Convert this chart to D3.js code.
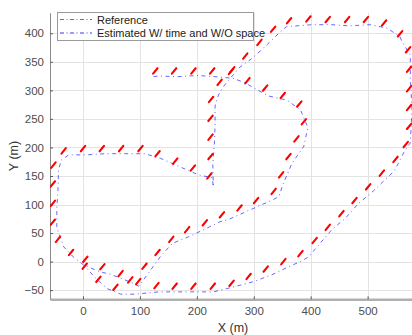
<!DOCTYPE html>
<html>
<head>
<meta charset="utf-8">
<script src="https://cdn.jsdelivr.net/npm/d3@7/dist/d3.min.js"></script>
<style>
  html, body { margin: 0; padding: 0; background: #fff; }
  svg { display: block; font-family: "Liberation Sans", Arial, Helvetica, sans-serif; }
</style>
</head>
<body>
<svg id="chart" width="412" height="335"></svg>
<script>
// Reference trajectory (red marks), metres
const refX = [127, 160, 194, 227, 260, 289, 320, 351, 380, 388, 375, 361, 348, 335, 304, 275, 244, 214, 183, 155, 131, 108,
  97, 83, 66, 34, 4, -21, -44, -53, -53, -53, -52, -34, 0, 33, 67, 101, 131, 162, 193, 222, 224, 224, 224, 225, 240, 262,
  285, 310, 334, 362, 396, 430, 464, 497, 529, 557, 571, 573, 573, 573, 573, 567, 549, 525, 501, 477, 454, 430, 407, 382,
  352, 321, 291, 261, 228, 194, 161, 129, 57, 27, 3];
const refY = [334, 334, 334, 334, 333, 317, 304, 291, 276, 245, 215, 184, 152, 123, 107, 94, 82, 68, 56, 39, 16, -8,
  -35, -32, -21, -9, 4, 16, 39, 69, 102, 136, 169, 194, 198, 198, 198, 198, 189, 176, 164, 150, 184, 218, 251, 284, 314, 336,
  360, 384, 407, 422, 425, 424, 424, 424, 418, 399, 371, 337, 303, 270, 237, 205, 179, 155, 131, 107, 84, 60, 37, 14,
  0, -13, -26, -38, -43, -43, -43, -42, -45, -31, -8];

// Estimated trajectory, W/ time and W/O space (blue)
const estX = [124, 132, 167, 201, 232, 264, 285, 297, 326, 358, 382, 395, 388, 367, 352, 344, 335, 256, 241, 212, 189, 157,
  136, 115, 98, 86, 71, 48, 30, 1, -19, -34, -46, -46, -44, -43, -38, -25, 7, 39, 69, 109, 136, 168, 203, 227, 229, 228,
  229, 231, 232, 232, 238, 247, 256, 276, 297, 317, 344, 358, 364, 402, 437, 467, 505, 534, 557, 560, 575, 575, 578, 575,
  564, 554, 546, 506, 484, 461, 437, 414, 396, 382, 361, 332, 300, 262, 229, 209, 168, 133, 92, 66, 42, 22, 6];
const estY = [324, 325, 324, 326, 324, 321, 313, 306, 290, 283, 266, 235, 202, 172, 137, 114, 109, 74, 70, 56, 45, 32,
  9, -20, -43, -37, -31, -22, -18, -6, 10, 26, 59, 94, 126, 161, 178, 187, 187, 189, 189, 189, 181, 167, 152, 147, 131, 169,
  184, 210, 240, 272, 292, 307, 318, 341, 356, 374, 400, 412, 412, 415, 415, 413, 415, 409, 394, 386, 362, 324, 266, 208,
  192, 172, 158, 120, 102, 76, 56, 29, 8, 0, -9, -23, -35, -45, -53, -53, -53, -53, -57, -57, -47, -29, -11];

const xTicks = [0, 100, 200, 300, 400, 500];
const yTicks = [-50, 0, 50, 100, 150, 200, 250, 300, 350, 400];
const seriesNames = ['Reference', 'Estimated W/ time and W/O space'];
const seriesColors = ['#ff0000', '#0000ff'];

const margin = { top: 12.7, right: 0, bottom: 35.7, left: 50 };
const W = 412, H = 335;
const svg = d3.select('#chart');

const x = d3.scaleLinear().domain([-58, 578]).range([margin.left, W - margin.right]);
const y = d3.scaleLinear().domain([-66, 436]).range([H - margin.bottom, margin.top]);

svg.append('defs').append('clipPath').attr('id', 'plot')
  .append('rect')
  .attr('x', margin.left).attr('y', margin.top)
  .attr('width', W - margin.left - margin.right)
  .attr('height', H - margin.top - margin.bottom);

// grid
const grid = svg.append('g').attr('stroke', '#e3e3e3').attr('stroke-width', 1);
grid.selectAll('.gx').data(xTicks).enter().append('line')
  .attr('x1', d => Math.round(x(d)) + 0.5).attr('x2', d => Math.round(x(d)) + 0.5)
  .attr('y1', margin.top).attr('y2', H - margin.bottom);
grid.selectAll('.gy').data(yTicks).enter().append('line')
  .attr('y1', d => Math.round(y(d)) + 0.5).attr('y2', d => Math.round(y(d)) + 0.5)
  .attr('x1', margin.left).attr('x2', W - margin.right);

// axes
const xAxis = svg.append('g')
  .attr('transform', `translate(0,${H - margin.bottom})`)
  .call(d3.axisBottom(x).tickValues(xTicks).tickSizeInner(-3).tickSizeOuter(0).tickPadding(8));
const yAxis = svg.append('g')
  .attr('transform', `translate(${margin.left},0)`)
  .call(d3.axisLeft(y).tickValues(yTicks).tickSizeInner(-3).tickSizeOuter(0).tickPadding(6));

[xAxis, yAxis].forEach(g => {
  g.selectAll('text').attr('fill', '#4d4d4d').style('font-size', '11.5px')
    .style('font-family', '"Liberation Sans", Arial, sans-serif');
  g.selectAll('line').attr('stroke', '#5a5a5a');
});
xAxis.select('.domain').attr('stroke', '#b0b0b0').attr('stroke-width', 2.5);
yAxis.select('.domain').attr('stroke', '#8a8a8a').attr('stroke-width', 1);

// axis labels
svg.append('text')
  .attr('x', (margin.left + W - margin.right) / 2 + 2).attr('y', 332)
  .attr('text-anchor', 'middle').attr('fill', '#333').style('font-size', '12.5px')
  .text('X (m)');
svg.append('text')
  .attr('transform', `translate(18,${(margin.top + H - margin.bottom) / 2}) rotate(-90)`)
  .attr('text-anchor', 'middle').attr('fill', '#333').style('font-size', '12.5px')
  .text('Y (m)');

const plot = svg.append('g').attr('clip-path', 'url(#plot)');

// estimated path: thin, broken dash-dot
const estPts = estX.map((d, i) => [d, estY[i]]);
plot.append('path')
  .datum(estPts)
  .attr('d', d3.line().x(d => x(d[0])).y(d => y(d[1])))
  .attr('fill', 'none')
  .attr('stroke', seriesColors[1])
  .attr('stroke-width', 0.75)
  .attr('stroke-dasharray', '4,3.5,1,3.5')
  .attr('opacity', 0.8);

// reference: short slanted red dashes
const refPts = refX.map((d, i) => [d, refY[i]]);
plot.selectAll('.ref').data(refPts).enter().append('line')
  .attr('x1', d => x(d[0]) - 2.2).attr('y1', d => y(d[1]) + 2.7)
  .attr('x2', d => x(d[0]) + 2.2).attr('y2', d => y(d[1]) - 2.7)
  .attr('stroke', seriesColors[0])
  .attr('stroke-width', 2.1)
  .attr('stroke-linecap', 'round');

// legend
const lg = svg.append('g');
lg.append('rect')
  .attr('x', 57.5).attr('y', 12.5).attr('width', 196).attr('height', 28)
  .attr('fill', '#fff').attr('stroke', '#9a9a9a').attr('stroke-width', 1);
seriesNames.forEach((name, i) => {
  const ly = 19.5 + i * 13.5;
  lg.append('line')
    .attr('x1', 60).attr('x2', 92).attr('y1', ly).attr('y2', ly)
    .attr('stroke', seriesColors[i]).attr('stroke-width', 0.8)
    .attr('stroke-dasharray', '4,2.5,1,2.5');
  lg.append('text')
    .attr('x', 97).attr('y', ly + 4)
    .attr('fill', '#222').style('font-size', '11px')
    .text(name);
});
</script>
</body>
</html>
